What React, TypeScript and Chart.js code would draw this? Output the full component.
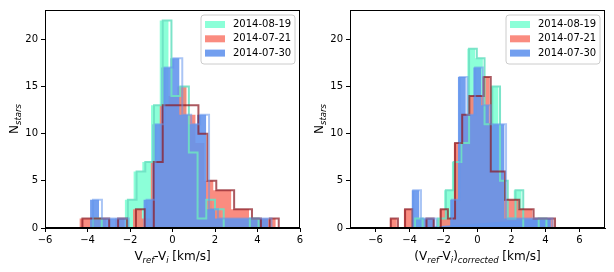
import React, { useEffect, useRef } from 'react';
import { Chart, registerables } from 'chart.js';

Chart.register(...registerables);

// ---------------- data ----------------
const seriesLabels = ['2014-08-19', '2014-07-21', '2014-07-30'];

const yTicks = [0, 5, 10, 15, 20];
const yMax = 23.1;
const xTicks = [-6, -4, -2, 0, 2, 4, 6];
const leftXRange = [-6, 6];
const rightXRange = [-7.5, 7.5];

// Left panel: V_ref - V_i
const leftGreenStart = -5.52;
const leftGreenWidth = 0.41;
const leftGreenCounts = [0, 0, 0, 0, 1, 0, 0, 0, 3, 6, 7, 13, 22, 14, 15, 8, 1, 3, 2, 0, 0, 0, 1, 0, 0, 0, 0, 0];
const leftGreenLineStart = -5.38;

const leftRedStart = -4.38;
const leftRedWidth = 0.42;
const leftRedCounts = [1, 1, 1, 0, 1, 0, 2, 1, 7, 13, 14, 15, 12, 9, 5, 4, 4, 2, 2, 1, 1, 1];
const leftRedLineStart = -4.24;
const leftRedLineCounts = [1, 1, 1, 0, 1, 0, 2, 0, 7, 13, 13, 13, 13, 10, 5, 4, 4, 2, 2, 1, 0, 1];

const leftBlueStart = -3.88;
const leftBlueWidth = 0.42;
const leftBlueCounts = [3, 1, 1, 1, 0, 0, 3, 11, 17, 18, 12, 11, 12, 2, 1, 1, 1, 1, 1, 1];
const leftBlueLineStart = -3.74;

// Right panel: (V_ref - V_i)_corrected
const rightGreenStart = -5.6;
const rightGreenWidth = 0.455;
const rightGreenCounts = [0, 0, 0, 0, 1, 0, 0, 1, 4, 7, 9, 19, 18, 11, 15, 5, 1, 4, 0, 0, 1, 0, 0, 0, 0, 0];
const rightGreenLineStart = -5.5;

const rightRedStart = -5.17;
const rightRedWidth = 0.42;
const rightRedCounts = [1, 0, 2, 0, 0, 1, 0, 2, 1, 9, 12, 14, 14, 16, 6, 6, 3, 3, 2, 2, 1, 1, 1];
const rightRedLineStart = -5.1;

const rightBlueStart = -3.88;
const rightBlueWidth = 0.455;
const rightBlueCounts = [4, 1, 1, 0, 0, 3, 16, 12, 17, 13, 11, 11, 1, 1, 1, 1, 1, 1];
const rightBlueLineStart = -3.78;

// ---------------- styles ----------------
const FONT = '"DejaVu Sans", "Liberation Sans", sans-serif';
const fillColors = ['rgba(127,255,212,0.9)', 'rgba(250,128,114,0.9)', 'rgba(100,149,237,0.9)'];
const lineColors = ['rgba(110,225,195,0.9)', 'rgba(140,25,35,0.72)', 'rgba(100,149,237,0.55)'];

type Part = { t: string; sub?: boolean };

function stepPoints(start: number, width: number, counts: number[]) {
  const pts: { x: number; y: number }[] = [{ x: start, y: 0 }];
  counts.forEach((c, i) => {
    const a = start + i * width;
    pts.push({ x: a, y: c });
    pts.push({ x: a + width, y: c });
  });
  pts.push({ x: start + counts.length * width, y: 0 });
  return pts;
}

function drawRich(ctx: CanvasRenderingContext2D, parts: Part[], x: number, y: number) {
  const mainFont = `12px ${FONT}`;
  const subFont = `italic 8.5px ${FONT}`;
  let total = 0;
  const widths = parts.map((p) => {
    ctx.font = p.sub ? subFont : mainFont;
    const w = ctx.measureText(p.t).width;
    total += w;
    return w;
  });
  let cx = x - total / 2;
  ctx.textAlign = 'left';
  ctx.textBaseline = 'alphabetic';
  ctx.fillStyle = '#000';
  parts.forEach((p, i) => {
    ctx.font = p.sub ? subFont : mainFont;
    ctx.fillText(p.t, cx, p.sub ? y + 3.2 : y);
    cx += widths[i];
  });
}

function makeDecorPlugin(xTitle: Part[], yTitleX: number) {
  return {
    id: 'decor',
    afterDatasetsDraw(chart: any) {
      const { ctx, chartArea } = chart;
      ctx.save();
      // frame
      ctx.strokeStyle = '#000';
      ctx.lineWidth = 1;
      ctx.strokeRect(
        Math.round(chartArea.left) + 0.5,
        Math.round(chartArea.top) + 0.5,
        Math.round(chartArea.right - chartArea.left) - 1,
        Math.round(chartArea.bottom - chartArea.top) - 1
      );
      // legend
      const bw = 94;
      const bh = 49;
      const bx = chartArea.right - 5 - bw;
      const by = chartArea.top + 5;
      ctx.beginPath();
      const r = 3;
      ctx.moveTo(bx + r, by);
      ctx.lineTo(bx + bw - r, by);
      ctx.quadraticCurveTo(bx + bw, by, bx + bw, by + r);
      ctx.lineTo(bx + bw, by + bh - r);
      ctx.quadraticCurveTo(bx + bw, by + bh, bx + bw - r, by + bh);
      ctx.lineTo(bx + r, by + bh);
      ctx.quadraticCurveTo(bx, by + bh, bx, by + bh - r);
      ctx.lineTo(bx, by + r);
      ctx.quadraticCurveTo(bx, by, bx + r, by);
      ctx.closePath();
      ctx.fillStyle = 'rgba(255,255,255,0.8)';
      ctx.fill();
      ctx.strokeStyle = '#cccccc';
      ctx.stroke();
      seriesLabels.forEach((lab, i) => {
        const ry = by + 6 + i * 14.3;
        ctx.fillStyle = fillColors[i];
        ctx.fillRect(bx + 4, ry, 20, 7);
        ctx.fillStyle = '#000';
        ctx.font = `10px ${FONT}`;
        ctx.textAlign = 'left';
        ctx.textBaseline = 'middle';
        ctx.fillText(lab, bx + 32, ry + 3.5);
      });
      // axis titles
      drawRich(ctx, xTitle, (chartArea.left + chartArea.right) / 2, chart.height - 12);
      ctx.translate(yTitleX, (chartArea.top + chartArea.bottom) / 2);
      ctx.rotate(-Math.PI / 2);
      drawRich(ctx, [{ t: 'N' }, { t: 'stars', sub: true }], 0, 0);
      ctx.restore();
    },
  };
}

type PanelCfg = {
  hists: { start: number; width: number; counts: number[]; lineStart: number; lineCounts: number[] }[];
  xRange: number[];
  xTitle: Part[];
  yAxisWidth: number;
  padRight: number;
  yTitleX: number;
};

function HistPanel({ cfg, left }: { cfg: PanelCfg; left: number }) {
  const ref = useRef<HTMLCanvasElement | null>(null);
  useEffect(() => {
    if (!ref.current) return;
    const datasets: any[] = [];
    cfg.hists.forEach((h, i) => {
      datasets.push({
        label: seriesLabels[i],
        data: stepPoints(h.start, h.width, h.counts),
        backgroundColor: fillColors[i],
        borderColor: 'rgba(0,0,0,0)',
        borderWidth: 0,
        fill: 'origin',
        pointRadius: 0,
        tension: 0,
        order: 10 - i,
      });
    });
    cfg.hists.forEach((h, i) => {
      datasets.push({
        label: seriesLabels[i] + ' step',
        data: stepPoints(h.lineStart, h.width, h.lineCounts),
        borderColor: lineColors[i],
        borderWidth: 2,
        fill: false,
        pointRadius: 0,
        tension: 0,
        order: 5 - i,
      });
    });
    const tickFmt = (v: any) => String(v).replace('-', '\u2212');
    const chart = new Chart(ref.current, {
      type: 'line',
      data: { datasets },
      options: {
        responsive: false,
        animation: false,
        events: [],
        layout: { padding: { left: 0, right: cfg.padRight, top: 10, bottom: 0 } },
        plugins: { legend: { display: false }, tooltip: { enabled: false } },
        scales: {
          x: {
            type: 'linear',
            min: cfg.xRange[0],
            max: cfg.xRange[1],
            afterBuildTicks: (axis: any) => {
              axis.ticks = xTicks.map((v) => ({ value: v }));
            },
            afterFit: (axis: any) => {
              axis.height = 44;
            },
            ticks: {
              autoSkip: false,
              maxRotation: 0,
              padding: 2,
              color: '#000',
              font: { family: FONT, size: 10 },
              callback: tickFmt,
            },
            grid: { drawOnChartArea: false, drawTicks: true, tickLength: 4, tickColor: '#000' },
            border: { display: true, color: '#000', width: 1 },
          },
          y: {
            type: 'linear',
            min: 0,
            max: yMax,
            afterBuildTicks: (axis: any) => {
              axis.ticks = yTicks.map((v) => ({ value: v }));
            },
            afterFit: (axis: any) => {
              axis.width = cfg.yAxisWidth;
            },
            ticks: {
              padding: 3,
              color: '#000',
              font: { family: FONT, size: 10 },
              callback: tickFmt,
            },
            grid: { drawOnChartArea: false, drawTicks: true, tickLength: 4, tickColor: '#000' },
            border: { display: true, color: '#000', width: 1 },
          },
        },
      },
      plugins: [makeDecorPlugin(cfg.xTitle, cfg.yTitleX)],
    } as any);
    return () => chart.destroy();
  }, [cfg]);
  return (
    <canvas
      ref={ref}
      width={307}
      height={272}
      style={{ position: 'absolute', left, top: 0, width: 307, height: 272 }}
    />
  );
}

const leftCfg: PanelCfg = {
  hists: [
    { start: leftGreenStart, width: leftGreenWidth, counts: leftGreenCounts, lineStart: leftGreenLineStart, lineCounts: leftGreenCounts },
    { start: leftRedStart, width: leftRedWidth, counts: leftRedCounts, lineStart: leftRedLineStart, lineCounts: leftRedLineCounts },
    { start: leftBlueStart, width: leftBlueWidth, counts: leftBlueCounts, lineStart: leftBlueLineStart, lineCounts: leftBlueCounts },
  ],
  xRange: leftXRange,
  xTitle: [{ t: 'V' }, { t: 'ref', sub: true }, { t: '-V' }, { t: 'i', sub: true }, { t: ' [km/s]' }],
  yAxisWidth: 45,
  padRight: 7,
  yTitleX: 18,
};

const rightCfg: PanelCfg = {
  hists: [
    { start: rightGreenStart, width: rightGreenWidth, counts: rightGreenCounts, lineStart: rightGreenLineStart, lineCounts: rightGreenCounts },
    { start: rightRedStart, width: rightRedWidth, counts: rightRedCounts, lineStart: rightRedLineStart, lineCounts: rightRedCounts },
    { start: rightBlueStart, width: rightBlueWidth, counts: rightBlueCounts, lineStart: rightBlueLineStart, lineCounts: rightBlueCounts },
  ],
  xRange: rightXRange,
  xTitle: [
    { t: '(V' },
    { t: 'ref', sub: true },
    { t: '-V' },
    { t: 'i', sub: true },
    { t: ')' },
    { t: 'corrected', sub: true },
    { t: ' [km/s]' },
  ],
  yAxisWidth: 43,
  padRight: 9,
  yTitleX: 16,
};

export default function App() {
  return (
    <div style={{ position: 'fixed', left: 0, top: 0, width: 614, height: 272, background: '#fff' }}>
      <HistPanel cfg={leftCfg} left={0} />
      <HistPanel cfg={rightCfg} left={307} />
    </div>
  );
}
